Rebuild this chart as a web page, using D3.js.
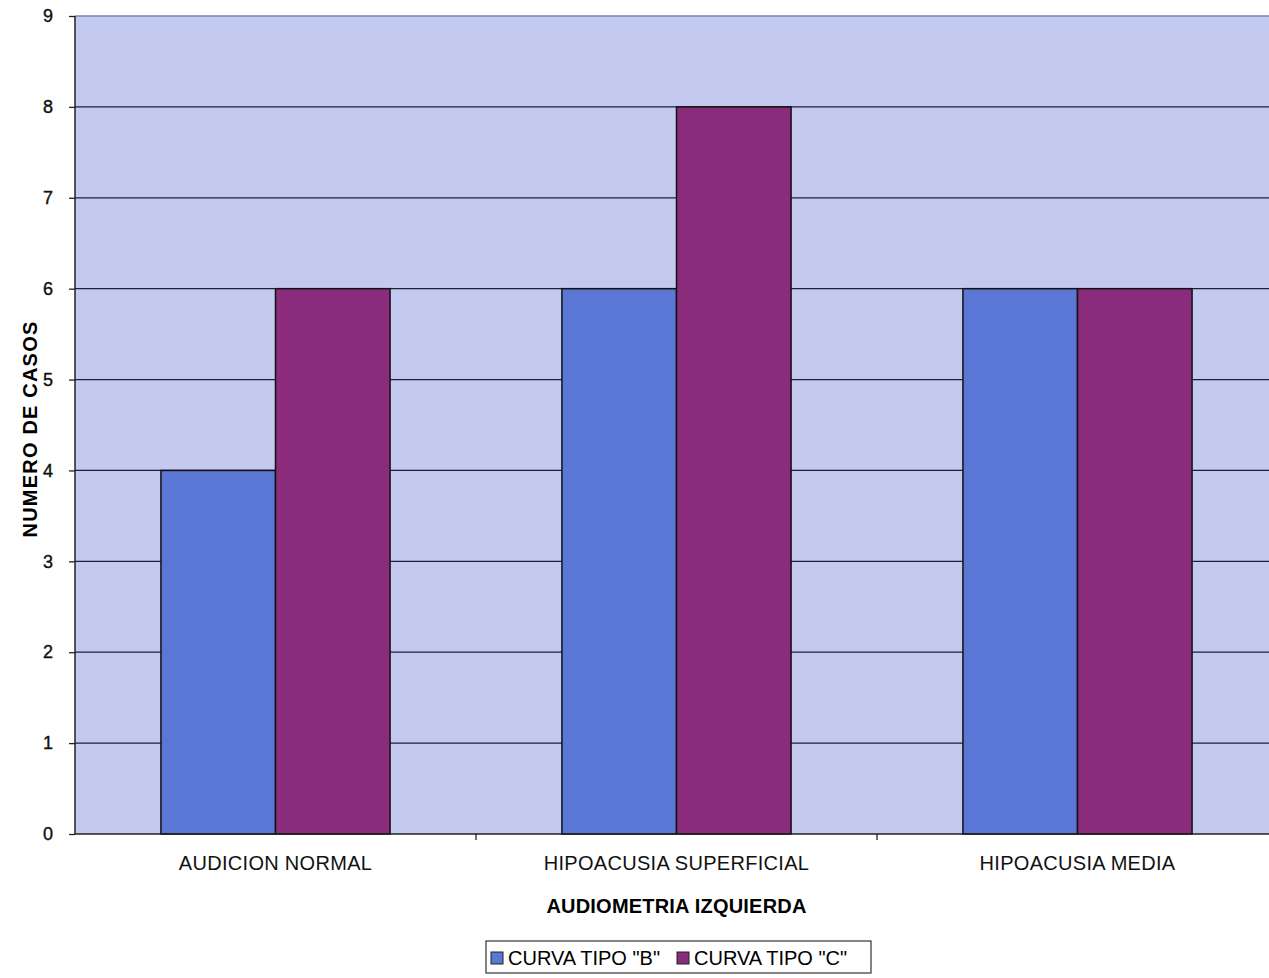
<!DOCTYPE html>
<html>
<head>
<meta charset="utf-8">
<script src="https://cdn.jsdelivr.net/npm/d3@7"></script>
<style>
  body { margin: 0; background: #fff; }
  svg { display: block; font-family: "Liberation Sans", Arial, sans-serif; }
</style>
</head>
<body>
<div id="chart"></div>
<script>
// data
var categories = ["AUDICION NORMAL", "HIPOACUSIA SUPERFICIAL", "HIPOACUSIA MEDIA"];
var seriesNames = ['CURVA TIPO "B"', 'CURVA TIPO "C"'];
var curvaB = [4, 6, 6];
var curvaC = [6, 8, 6];
var yTicks = [0, 1, 2, 3, 4, 5, 6, 7, 8, 9];

var colors = ["#5b77d6", "#8a2b7b"];

var W = 1269, H = 978;
var margin = { left: 75, top: 16, right: -9, bottom: 144 };

var svg = d3.select("#chart").append("svg")
  .attr("width", W)
  .attr("height", H);

// x scale for categories, y scale for counts
var x = d3.scaleBand()
  .domain(categories)
  .range([margin.left, W - margin.right]);

var y = d3.scaleLinear()
  .domain([0, 9])
  .range([H - margin.bottom, margin.top]);

var inner = d3.scaleBand()
  .domain(seriesNames)
  .range([0, x.bandwidth()])
  .paddingOuter(0.75);

// plot background
svg.append("rect")
  .attr("x", margin.left)
  .attr("y", y(9))
  .attr("width", W - margin.left)
  .attr("height", y(0) - y(9))
  .style("fill", "#c4caef");

// gridlines
svg.selectAll(".grid")
  .data(yTicks.filter(function (d) { return d > 0; }))
  .enter()
  .append("line")
  .attr("x1", margin.left)
  .attr("x2", W)
  .attr("y1", function (d) { return y(d); })
  .attr("y2", function (d) { return y(d); })
  .style("stroke", function (d) { return d == 9 ? "#7a80b8" : "#1c1f3a"; })
  .style("stroke-width", 1.3);

// bars
var rows = categories.map(function (c, i) {
  return { cat: c, values: [curvaB[i], curvaC[i]] };
});

var groups = svg.selectAll(".cat")
  .data(rows)
  .enter()
  .append("g")
  .attr("transform", function (d) { return "translate(" + x(d.cat) + ",0)"; });

groups.selectAll("rect")
  .data(function (d) {
    return d.values.map(function (v, j) { return { name: seriesNames[j], v: v, j: j }; });
  })
  .enter()
  .append("rect")
  .attr("x", function (d) { return inner(d.name); })
  .attr("y", function (d) { return y(d.v); })
  .attr("width", inner.bandwidth())
  .attr("height", function (d) { return y(0) - y(d.v); })
  .style("fill", function (d) { return colors[d.j]; })
  .style("stroke", "#111")
  .style("stroke-width", 1.5);

// y axis
var yAxis = d3.axisLeft(y)
  .tickValues(yTicks)
  .tickSize(6)
  .tickPadding(16)
  .tickFormat(d3.format("d"));

var gy = svg.append("g")
  .attr("transform", "translate(" + margin.left + ",0)")
  .call(yAxis);
gy.select(".domain").attr("d", "M0," + y(9) + "V" + y(0)).style("stroke", "#222").style("stroke-width", 1.5);
gy.selectAll(".tick line").style("stroke", "#222").style("stroke-width", 1.3);
gy.selectAll("text")
  .style("font-size", "18px")
  .style("fill", "#111")
  .style("stroke", "#111")
  .style("stroke-width", 0.4);

// x axis
var xAxis = d3.axisBottom(x).tickSize(0).tickPadding(22);
var gx = svg.append("g")
  .attr("transform", "translate(0," + y(0) + ")")
  .call(xAxis);
gx.select(".domain").attr("d", "M" + margin.left + ",0H" + W).style("stroke", "#222").style("stroke-width", 1.5);
gx.selectAll("text")
  .style("font-size", "20px")
  .style("letter-spacing", "0.3px")
  .style("fill", "#111");

// category divider ticks
svg.selectAll(".divtick")
  .data(categories.slice(1))
  .enter()
  .append("line")
  .attr("x1", function (d) { return x(d); })
  .attr("x2", function (d) { return x(d); })
  .attr("y1", y(0))
  .attr("y2", y(0) + 6)
  .style("stroke", "#222")
  .style("stroke-width", 1.3);

// axis titles
svg.append("text")
  .attr("x", x(categories[1]) + x.bandwidth() / 2)
  .attr("y", 913)
  .attr("text-anchor", "middle")
  .style("font-size", "20px")
  .style("font-weight", "bold")
  .style("letter-spacing", "0.2px")
  .text("AUDIOMETRIA IZQUIERDA");

svg.append("text")
  .attr("transform", "translate(37," + 429 + ") rotate(-90)")
  .attr("text-anchor", "middle")
  .style("font-size", "20px")
  .style("font-weight", "bold")
  .style("letter-spacing", "1.2px")
  .text("NUMERO DE CASOS");

// legend
var legend = svg.append("g").attr("transform", "translate(486,941)");
legend.append("rect")
  .attr("width", 385)
  .attr("height", 32)
  .style("fill", "#fff")
  .style("stroke", "#333")
  .style("stroke-width", 1.2);

var items = legend.selectAll(".item")
  .data(seriesNames)
  .enter()
  .append("g")
  .attr("transform", function (d, i) { return "translate(" + (5 + i * 186) + ",0)"; });

items.append("rect")
  .attr("x", 0)
  .attr("y", 11)
  .attr("width", 12)
  .attr("height", 12)
  .style("fill", function (d, i) { return colors[i]; })
  .style("stroke", "#222");

items.append("text")
  .attr("x", 17)
  .attr("y", 24)
  .style("font-size", "20px")
  .text(function (d) { return d; });
</script>
</body>
</html>
